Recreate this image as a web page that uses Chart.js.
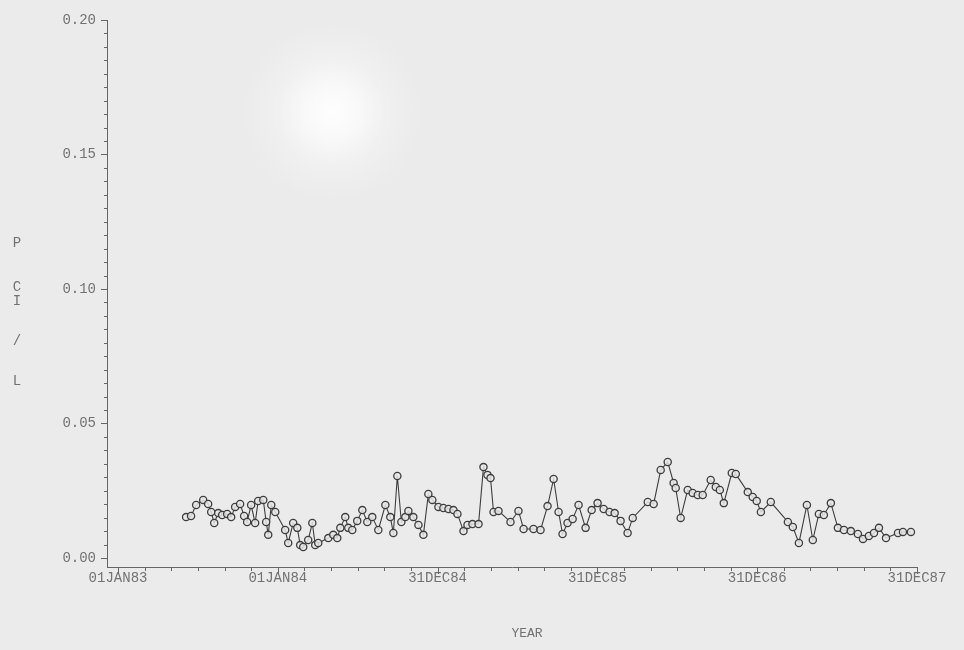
<!DOCTYPE html>
<html><head><meta charset="utf-8">
<script src="https://cdn.jsdelivr.net/npm/chart.js@4/dist/chart.umd.min.js"></script>
<style>
html,body{margin:0;padding:0;width:964px;height:650px;overflow:hidden;}
body{background:radial-gradient(circle at 332px 112px,#fefefe 0px,#f9f9f9 26px,#f0f0f0 55px,#ebebeb 90px);}
#wrap{position:relative;width:964px;height:650px;}
</style></head><body>
<div id="wrap"><canvas id="c" width="964" height="650"></canvas></div>
<script>
// ---- data (decimal year of sample, concentration in pCi/L) ----
const sampleYears = [
1983.426,1983.457,1983.489,1983.533,1983.564,1983.583,1983.602,1983.627,1983.652,1983.683,
1983.708,1983.733,1983.764,1983.789,1983.808,1983.833,1983.858,1983.877,1983.909,1983.927,
1983.940,1983.959,1983.984,1984.046,1984.065,1984.096,1984.122,1984.140,1984.159,1984.190,
1984.216,1984.234,1984.253,1984.316,1984.347,1984.372,1984.391,1984.422,1984.441,1984.466,
1984.497,1984.529,1984.560,1984.591,1984.629,1984.673,1984.704,1984.723,1984.748,1984.773,
1984.798,1984.817,1984.848,1984.880,1984.911,1984.942,1984.967,1985.005,1985.036,1985.068,
1985.099,1985.124,1985.162,1985.187,1985.218,1985.256,1985.287,1985.312,1985.331,1985.350,
1985.381,1985.456,1985.506,1985.538,1985.600,1985.644,1985.688,1985.726,1985.757,1985.782,
1985.813,1985.845,1985.882,1985.926,1985.964,1986.001,1986.039,1986.076,1986.108,1986.145,
1986.189,1986.221,1986.315,1986.352,1986.396,1986.440,1986.477,1986.490,1986.521,1986.565,
1986.596,1986.628,1986.659,1986.709,1986.741,1986.766,1986.791,1986.841,1986.866,1986.941,
1986.972,1986.997,1987.023,1987.085,1987.192,1987.223,1987.261,1987.311,1987.348,1987.386,
1987.417,1987.461,1987.505,1987.543,1987.586,1987.630,1987.662,1987.699,1987.731,1987.762,
1987.806,1987.881,1987.912,1987.962
];
const concentrations = [
0.0152,0.0156,0.0197,0.0216,0.0201,0.0171,0.0130,0.0167,0.0160,0.0164,
0.0152,0.0190,0.0201,0.0156,0.0134,0.0197,0.0130,0.0212,0.0216,0.0134,
0.0086,0.0197,0.0171,0.0104,0.0056,0.0130,0.0112,0.0048,0.0041,0.0067,
0.0130,0.0048,0.0056,0.0074,0.0086,0.0074,0.0112,0.0152,0.0112,0.0104,
0.0138,0.0178,0.0134,0.0152,0.0104,0.0197,0.0152,0.0093,0.0305,0.0134,
0.0152,0.0175,0.0152,0.0123,0.0086,0.0238,0.0216,0.0190,0.0186,0.0182,
0.0178,0.0164,0.0100,0.0123,0.0126,0.0126,0.0338,0.0309,0.0297,0.0171,
0.0175,0.0134,0.0175,0.0108,0.0108,0.0104,0.0193,0.0294,0.0171,0.0089,
0.0130,0.0145,0.0197,0.0112,0.0178,0.0204,0.0182,0.0171,0.0167,0.0138,
0.0093,0.0149,0.0208,0.0201,0.0327,0.0357,0.0279,0.0260,0.0149,0.0253,
0.0242,0.0234,0.0234,0.0290,0.0264,0.0253,0.0204,0.0316,0.0312,0.0245,
0.0227,0.0212,0.0171,0.0208,0.0134,0.0115,0.0056,0.0197,0.0067,0.0164,
0.0160,0.0204,0.0112,0.0104,0.0100,0.0089,0.0071,0.0082,0.0093,0.0112,
0.0074,0.0093,0.0097,0.0097
];
const xTickYears  = [1983, 1984, 1985, 1986, 1987, 1988];
const xTickLabels = ['01JAN83','01JAN84','31DEC84','31DEC85','31DEC86','31DEC87'];
const yTickValues = [0, 0.05, 0.10, 0.15, 0.20];
const yTitleLetters = ['P','C','I','/','L'];
const xTitleText = 'YEAR';

const AXIS = '#666666';
const TEXT = '#727272';
const FONT = 'Liberation Mono';

const decor = {
  id: 'decor',
  afterDraw(chart) {
    const ctx = chart.ctx, xs = chart.scales.x, ys = chart.scales.y, ca = chart.chartArea;
    ctx.save();
    ctx.strokeStyle = AXIS; ctx.lineWidth = 1;
    ctx.beginPath();
    for (let i = 0; i <= 40; i++) {
      const py = Math.round(ys.getPixelForValue(i * 0.005)) + 0.5;
      const len = (i % 10 === 0) ? 6 : 3;
      ctx.moveTo(ca.left - len, py); ctx.lineTo(ca.left, py);
    }
    for (let i = 0; i <= 30; i++) {
      const px = Math.round(xs.getPixelForValue(1983 + i / 6)) + 0.5;
      const len = (i % 6 === 0) ? 7 : 4;
      ctx.moveTo(px, ca.bottom); ctx.lineTo(px, ca.bottom + len);
    }
    ctx.stroke();
    ctx.fillStyle = TEXT;
    ctx.font = '14px "' + FONT + '"';
    ctx.textAlign = 'center'; ctx.textBaseline = 'middle';
    const cy = ys.getPixelForValue(0.10);
    const offs = [-46, -2, 12, 52, 92];
    yTitleLetters.forEach((ch, i) => ctx.fillText(ch, 17, cy + offs[i]));
    ctx.font = '13px "' + FONT + '"';
    ctx.fillText(xTitleText, 527, 634);
    ctx.restore();
  }
};

new Chart(document.getElementById('c'), {
  type: 'line',
  data: {
    datasets: [{
      data: sampleYears.map((t, i) => ({ x: t, y: concentrations[i] })),
      borderColor: '#3e3e3e',
      borderWidth: 1.1,
      pointRadius: 3.6,
      pointBorderWidth: 1.3,
      pointBorderColor: '#3e3e3e',
      pointBackgroundColor: 'rgba(232,232,232,0.85)',
      tension: 0,
      fill: false
    }]
  },
  options: {
    responsive: false,
    animation: false,
    devicePixelRatio: 1,
    layout: { padding: { top: 20, right: 47, bottom: 0, left: 0 } },
    plugins: { legend: { display: false }, tooltip: { enabled: false } },
    scales: {
      x: {
        type: 'linear',
        min: 1982.931, max: 1988.0,
        afterFit(s) { s.height = 83; },
        afterBuildTicks(s) { s.ticks = xTickYears.map(v => ({ value: v })); },
        grid: { display: false, drawTicks: false },
        border: { display: true, color: AXIS, width: 1 },
        ticks: {
          autoSkip: false, maxRotation: 0, padding: 3,
          color: TEXT, font: { family: FONT, size: 14 },
          callback(v, i) { return xTickLabels[i]; }
        }
      },
      y: {
        type: 'linear',
        min: -0.003346, max: 0.2,
        afterFit(s) { s.width = 107; },
        afterBuildTicks(s) { s.ticks = yTickValues.map(v => ({ value: v })); },
        grid: { display: false, drawTicks: false },
        border: { display: true, color: AXIS, width: 1 },
        ticks: {
          padding: 11, color: TEXT, font: { family: FONT, size: 14 },
          callback(v) { return Number(v).toFixed(2); }
        }
      }
    }
  },
  plugins: [decor]
});
</script>
</body></html>
